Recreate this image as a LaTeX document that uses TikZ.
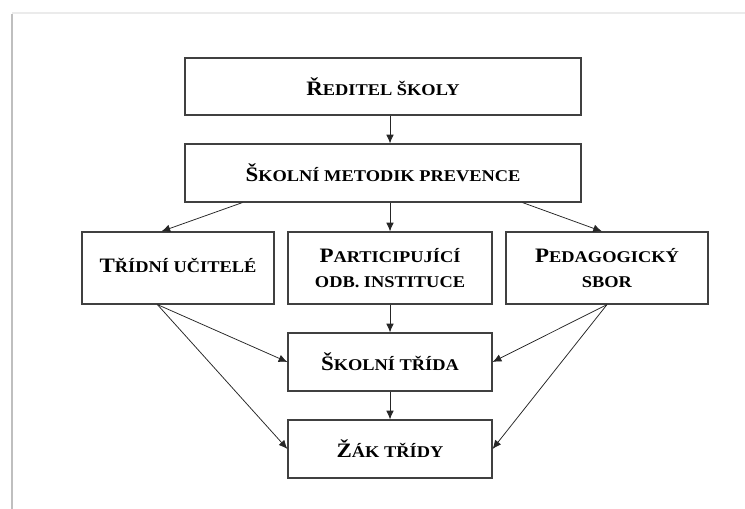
\documentclass[tikz,border=0pt]{standalone}
\usepackage{fontspec}
\setmainfont{Liberation Serif}[FakeStretch=1.12]
\usetikzlibrary{calc,arrows.meta}

% first letter large, the rest as small capitals
\newcommand{\kap}[2]{{\fontsize{17.5}{20}\selectfont #1}{\fontsize{14}{16}\selectfont #2}}

\tikzset{
    box/.style={draw=black!75, line width=1pt, align=center, font=\bfseries, inner sep=0pt},
    arr/.style={->, >={Latex[length=7.5pt,width=6.5pt]}, line width=0.65pt, black!85},
}

\begin{document}
\begin{tikzpicture}[x=0.03cm, y=-0.03cm]
    \useasboundingbox (0,0) rectangle (745,509);
    % frame of the page
    \draw[black!25, line width=1.5pt] (12,14) -- (12,509);
    \draw[black!8, line width=1pt] (12,13) -- (745,13);

    \node[box, minimum width=11.88cm, minimum height=1.71cm] (red) at (383,86.5) {\kap{Ř}{EDITEL ŠKOLY}};
    \node[box, minimum width=11.88cm, minimum height=1.74cm] (smp) at (383,173) {\kap{Š}{KOLNÍ METODIK PREVENCE}};
    \node[box, minimum width=5.76cm, minimum height=2.16cm] (tu) at (178,268) {\kap{T}{ŘÍDNÍ UČITELÉ}\\[-8pt]\mbox{}};
    \node[box, minimum width=6.12cm, minimum height=2.16cm] (pi) at (390,268) {\kap{P}{ARTICIPUJÍCÍ}\\[10pt]\kap{}{ODB. INSTITUCE}};
    \node[box, minimum width=6.06cm, minimum height=2.16cm] (ps) at (607,268) {\kap{P}{EDAGOGICKÝ}\\[10pt]\kap{}{SBOR}};
    \node[box, minimum width=6.12cm, minimum height=1.74cm] (st) at (390,362) {\kap{Š}{KOLNÍ TŘÍDA}};
    \node[box, minimum width=6.12cm, minimum height=1.74cm] (zak) at (390,449) {\kap{Ž}{ÁK TŘÍDY}};

    \coordinate (tuo) at ($(tu.south west)+(76,0)$);

    \draw[arr] (red.south -| pi.north) -- (smp.north -| pi.north);
    \draw[arr] ($(smp.south west)+(58,0)$) -- ($(tu.north west)+(80,0)$);
    \draw[arr] (smp.south -| pi.north) -- (pi.north);
    \draw[arr] ($(smp.south east)+(-59,0)$) -- ($(ps.north)+(-5,0)$);
    \draw[arr] (pi.south) -- (st.north);
    \draw[arr] (st.south) -- (zak.north);
    \draw[arr] (tuo) -- (st.west);
    \draw[arr] (tuo) -- (zak.west);
    \draw[arr] (ps.south) -- (st.east);
    \draw[arr] (ps.south) -- (zak.east);
\end{tikzpicture}
\end{document}
